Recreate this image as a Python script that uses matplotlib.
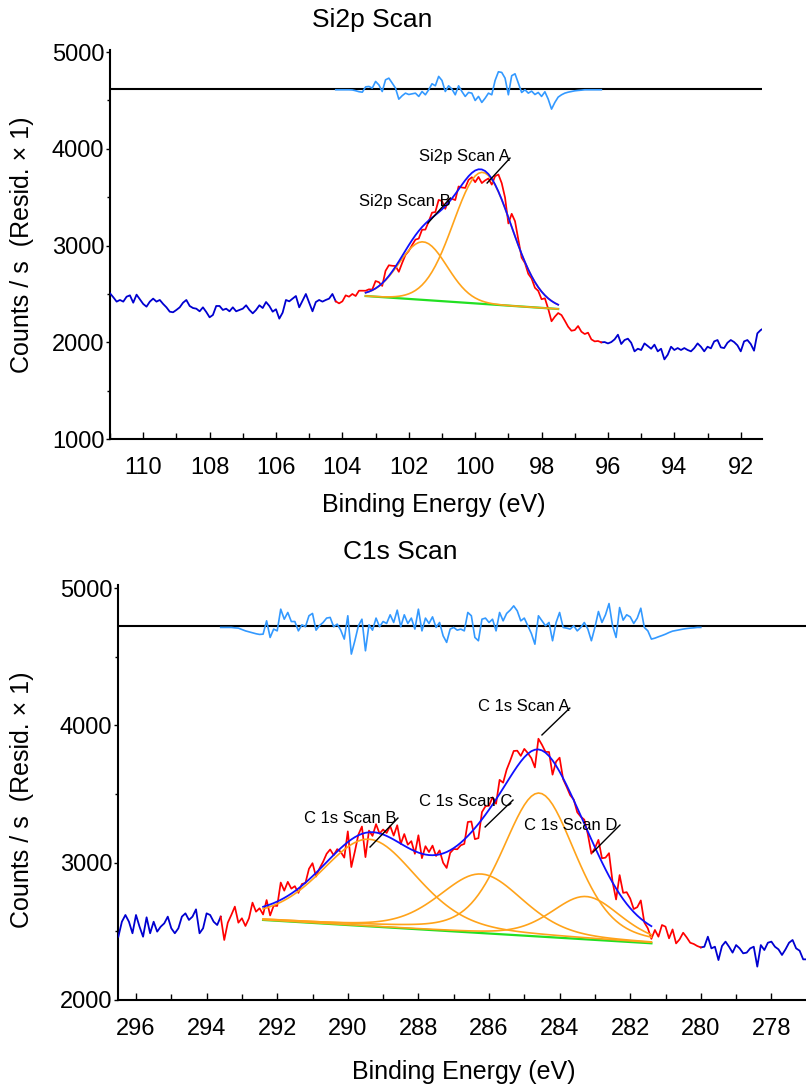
import numpy as np
import matplotlib
matplotlib.use("Agg")
import matplotlib.pyplot as plt
from matplotlib.ticker import MultipleLocator

plt.rcParams['font.family'] = ['Liberation Sans', 'DejaVu Sans']

# ---------------------------------------------------------------- Si2p data
si_start, si_stop, step = 111.0, 91.3, 0.1
# raw counts, 111.0 -> 103.4 eV
si_counts_left = [2506, 2465, 2420, 2437, 2420, 2471, 2485, 2409, 2492, 2444,
                  2396, 2368, 2420, 2451, 2420, 2437, 2396, 2361, 2316, 2310,
                  2334, 2361, 2409, 2437, 2375, 2354, 2347, 2320, 2361, 2313,
                  2258, 2282, 2375, 2375, 2334, 2347, 2320, 2361, 2320, 2334,
                  2347, 2382, 2334, 2299, 2334, 2382, 2354, 2416, 2375, 2316,
                  2341, 2244, 2306, 2437, 2423, 2451, 2478, 2361, 2430, 2499,
                  2409, 2320, 2416, 2437, 2420, 2437, 2451, 2499, 2423, 2402,
                  2423, 2485, 2471, 2499, 2478, 2533, 2533]
# raw counts, 97.4 -> 91.3 eV
si_counts_right = [2281, 2223, 2161, 2119, 2126, 2168, 2109, 2085, 2099, 2030,
                   2009, 2013, 1999, 2002, 1988, 2002, 2030, 2078, 1982, 2023,
                   2037, 1995, 1906, 1933, 1920, 1988, 1961, 1933, 1975, 1906,
                   1933, 1823, 1871, 1954, 1920, 1940, 1920, 1940, 1920, 1906,
                   1940, 1988, 1954, 1906, 1954, 1937, 2009, 2023, 1947, 1940,
                   1995, 2023, 2002, 1968, 1906, 2009, 2023, 1982, 1913, 2092,
                   2126, 2147]
# residual (data - fit), 104.2 -> 96.2 eV
si_resid_start, si_resid_stop = 104.2, 96.2
si_resid = [-10, -10, -10, -10, -10, -12, -20, -30, -35, 20,
            24, 7, 76, 40, -28, 93, 110, 59, 7, -107,
            -72, -45, -59, -52, -45, -79, -28, -62, -10, 52,
            31, 128, 86, -28, 31, -3, -62, 31, -28, -79,
            -38, -45, -121, -79, -141, -97, -45, -62, 86, 176,
            169, 110, -62, 135, 155, 59, -38, -10, -45, -24,
            -59, -38, -79, -31, -107, -210, -141, -86, -62, -45,
            -35, -28, -21, -17, -14, -10, -10, -10, -10, -10, -10]
si_resid_zero = 4620
# fit region and linear background end points
si_fit_hi, si_fit_lo = 103.3, 97.5
si_bg_hi, si_bg_lo = 2478, 2344
si_labels = ['Si2p Scan A', 'Si2p Scan B']
si_centers = [99.78, 101.57]
si_heights = [1360, 600]
si_fwhm = [2.05, 1.7]
si_mix = 0.0

# ---------------------------------------------------------------- C1s data
c_start, c_stop = 296.5, 277.0
# raw counts, 296.5 -> 292.5 eV
c_counts_left = [2461, 2570, 2619, 2570, 2486, 2619, 2534, 2461, 2602, 2486,
                 2570, 2498, 2534, 2558, 2607, 2522, 2486, 2522, 2607, 2631,
                 2583, 2607, 2660, 2486, 2522, 2631, 2619, 2570, 2546, 2607,
                 2437, 2563, 2619, 2680, 2563, 2595, 2539, 2595, 2709, 2643,
                 2668]
# raw counts, 281.3 -> 277.0 eV
c_counts_right = [2510, 2461, 2546, 2534, 2449, 2514, 2412, 2442, 2490, 2456,
                  2417, 2408, 2393, 2383, 2388, 2461, 2376, 2388, 2291, 2393,
                  2425, 2388, 2345, 2400, 2376, 2340, 2345, 2376, 2388, 2243,
                  2400, 2364, 2417, 2425, 2388, 2369, 2328, 2369, 2417, 2437,
                  2376, 2359, 2296, 2296]
# residual (data - fit), 293.6 -> 280.0 eV
c_resid_start, c_resid_stop = 293.6, 280.0
c_resid = [-7, -7, -7, -7, -10, -12, -22, -32, -39, -46,
           -53, -58, -56, 41, -80, -19, -32, 126, 53, 102,
           36, 36, -32, 12, -2, 78, 95, -27, 7, 29,
           61, 66, -2, 17, -27, -92, 78, -201, -104, 5,
           53, -177, 12, -27, 61, -2, 36, 22, 85, 29,
           119, -2, 85, 22, 61, -19, 126, -32, 61, 22,
           70, -7, 29, -68, -116, -19, -7, -27, -19, -32,
           102, 78, -80, -104, 53, 61, 29, 53, -32, 102,
           41, 95, 119, 150, 114, 41, 61, 5, -51, -129,
           78, 41, 5, 29, -104, 29, 102, -7, -12, -19,
           5, -32, -7, 29, -19, -104, -7, 109, 29, 85,
           167, 5, -80, 138, 46, 85, 70, 22, 61, 133,
           -7, -32, -92, -85, -75, -66, -56, -44, -34, -29,
           -24, -19, -15, -12, -10, -7, -7]
c_resid_zero = 4720
c_fit_hi, c_fit_lo = 292.4, 281.4
c_bg_hi, c_bg_lo = 2583, 2413
c_labels = ['C 1s Scan A', 'C 1s Scan B', 'C 1s Scan C', 'C 1s Scan D']
c_centers = [284.58, 289.40, 286.22, 283.25]
c_heights = [1045, 634, 430, 312]
c_fwhm = [2.4, 3.2, 2.8, 2.3]
c_mix = 0.3

# colours
RAW = '#0000D0'
FIT = '#1010FF'
REGION = '#FF0000'
COMP = '#FFA31A'
BG = '#22E022'
RES = '#3399FF'


def grid(hi, lo):
    n = int(round((hi - lo) / step)) + 1
    return np.round(hi - step * np.arange(n), 2)


def gl_peak(e, centre, height, fwhm, mix):
    x = (e - centre) / fwhm
    return height * ((1 - mix) * np.exp(-4 * np.log(2) * x ** 2)
                     + mix / (1 + 4 * x ** 2))


def build(start, stop, left, right, fit_hi, fit_lo, bg_hi, bg_lo,
          centres, heights, fwhms, mix, r_start, r_stop, resid):
    energy = grid(start, stop)
    e_fit = grid(fit_hi, fit_lo)
    bg = bg_lo + (bg_hi - bg_lo) * (e_fit - fit_lo) / (fit_hi - fit_lo)
    comps = [gl_peak(e_fit, c, h, w, mix) for c, h, w in zip(centres, heights, fwhms)]
    envelope = bg + np.sum(comps, axis=0)
    e_res = grid(r_start, r_stop)
    resid = np.asarray(resid, float)
    # measured counts inside the fit window: envelope plus residual
    in_fit = resid[(e_res <= fit_hi + 1e-6) & (e_res >= fit_lo - 1e-6)]
    counts = np.concatenate([left, envelope + in_fit, right]).astype(float)
    return energy, counts, e_fit, bg, comps, envelope, e_res, resid


def draw(ax, data, zero, labels, notes):
    energy, counts, e_fit, bg, comps, envelope, e_res, resid = data
    ax.axhline(zero, color='black', lw=1.5, zorder=2)
    ax.plot(e_res, zero + resid, color=RES, lw=1.2, zorder=3)
    hi, lo = e_res[0] + 1e-6, e_res[-1] - 1e-6
    left = energy >= hi - 0.1
    right = energy <= lo + 0.1
    ax.plot(energy[left], counts[left], color=RAW, lw=1.3, zorder=3)
    ax.plot(energy[right], counts[right], color=RAW, lw=1.3, zorder=3)
    sel = (energy <= hi) & (energy >= lo)
    ax.plot(energy[sel], counts[sel], color=REGION, lw=1.25, zorder=4)
    ax.plot(e_fit, bg, color=BG, lw=1.6, zorder=5)
    for comp in comps:
        ax.plot(e_fit, bg + comp, color=COMP, lw=1.2, zorder=6)
    ax.plot(e_fit, envelope, color=FIT, lw=1.3, zorder=7)
    for lab, (tx, ty, x0, y0, x1, y1) in zip(labels, notes):
        ax.text(tx, ty, lab, ha='right', va='center', fontsize=12, zorder=8)
        ax.plot([x0, x1], [y0, y1], color='black', lw=1.0, zorder=8)


def style(ax, xlim, ylim, xticks):
    ax.set_xlim(*xlim)
    ax.set_ylim(*ylim)
    for s in ('top', 'right'):
        ax.spines[s].set_visible(False)
    for s in ('left', 'bottom'):
        ax.spines[s].set_linewidth(1.5)
    ax.set_xticks(xticks)
    ax.set_xticklabels([str(t) for t in xticks])
    ax.xaxis.set_minor_locator(MultipleLocator(1))
    ax.yaxis.set_major_locator(MultipleLocator(1000))
    ax.yaxis.set_minor_locator(MultipleLocator(500))
    ax.tick_params(axis='x', which='major', direction='in', length=5, width=1,
                   pad=13, labelsize=17)
    ax.tick_params(axis='x', which='minor', direction='in', length=4, width=1)
    ax.tick_params(axis='y', which='major', direction='out', length=3, width=1,
                   pad=1, labelsize=17)
    ax.tick_params(axis='y', which='minor', direction='out', length=2, width=1)


fig = plt.figure(figsize=(8.06, 10.89), dpi=100)

ax1 = fig.add_axes([110 / 806, 1 - 439 / 1089, 652 / 806, 389 / 1089])
si = build(si_start, si_stop, si_counts_left, si_counts_right, si_fit_hi, si_fit_lo,
           si_bg_hi, si_bg_lo, si_centers, si_heights, si_fwhm, si_mix,
           si_resid_start, si_resid_stop, si_resid)
draw(ax1, si, si_resid_zero, si_labels,
     [(98.95, 3915, 98.95, 3904, 99.64, 3646),
      (100.75, 3450, 100.75, 3491, 101.42, 3233)])
style(ax1, (111.0, 91.36), (1000, 5021), list(range(110, 90, -2)))

ax2 = fig.add_axes([118 / 806, 1 - 1000 / 1089, 688 / 806, 415 / 1089])
c1s = build(c_start, c_stop, c_counts_left, c_counts_right, c_fit_hi, c_fit_lo,
            c_bg_hi, c_bg_lo, c_centers, c_heights, c_fwhm, c_mix,
            c_resid_start, c_resid_stop, c_resid)
draw(ax2, c1s, c_resid_zero, c_labels,
     [(283.71, 4134, 283.71, 4126, 284.50, 3930),
      (288.61, 3325, 288.58, 3325, 289.37, 3114),
      (285.35, 3449, 285.32, 3456, 286.11, 3260),
      (282.35, 3274, 282.29, 3274, 283.05, 3078)])
style(ax2, (296.51, 277.02), (2000, 5022), list(range(296, 276, -2)))

fig.text(372 / 806, 1 - 20 / 1089, 'Si2p Scan', ha='center', va='center', fontsize=19)
fig.text(400 / 806, 1 - 552 / 1089, 'C1s Scan', ha='center', va='center', fontsize=19)
fig.text(434 / 806, 1 - 505 / 1089, 'Binding Energy (eV)', ha='center', va='center', fontsize=18)
fig.text(464 / 806, 1 - 1072 / 1089, 'Binding Energy (eV)', ha='center', va='center', fontsize=18)
for yc in (245, 800):
    fig.text(22 / 806, 1 - yc / 1089, 'Counts / s  (Resid. \u00d7 1)', ha='center',
             va='center', rotation=90, fontsize=18)

fig.savefig('out.png', dpi=100)
